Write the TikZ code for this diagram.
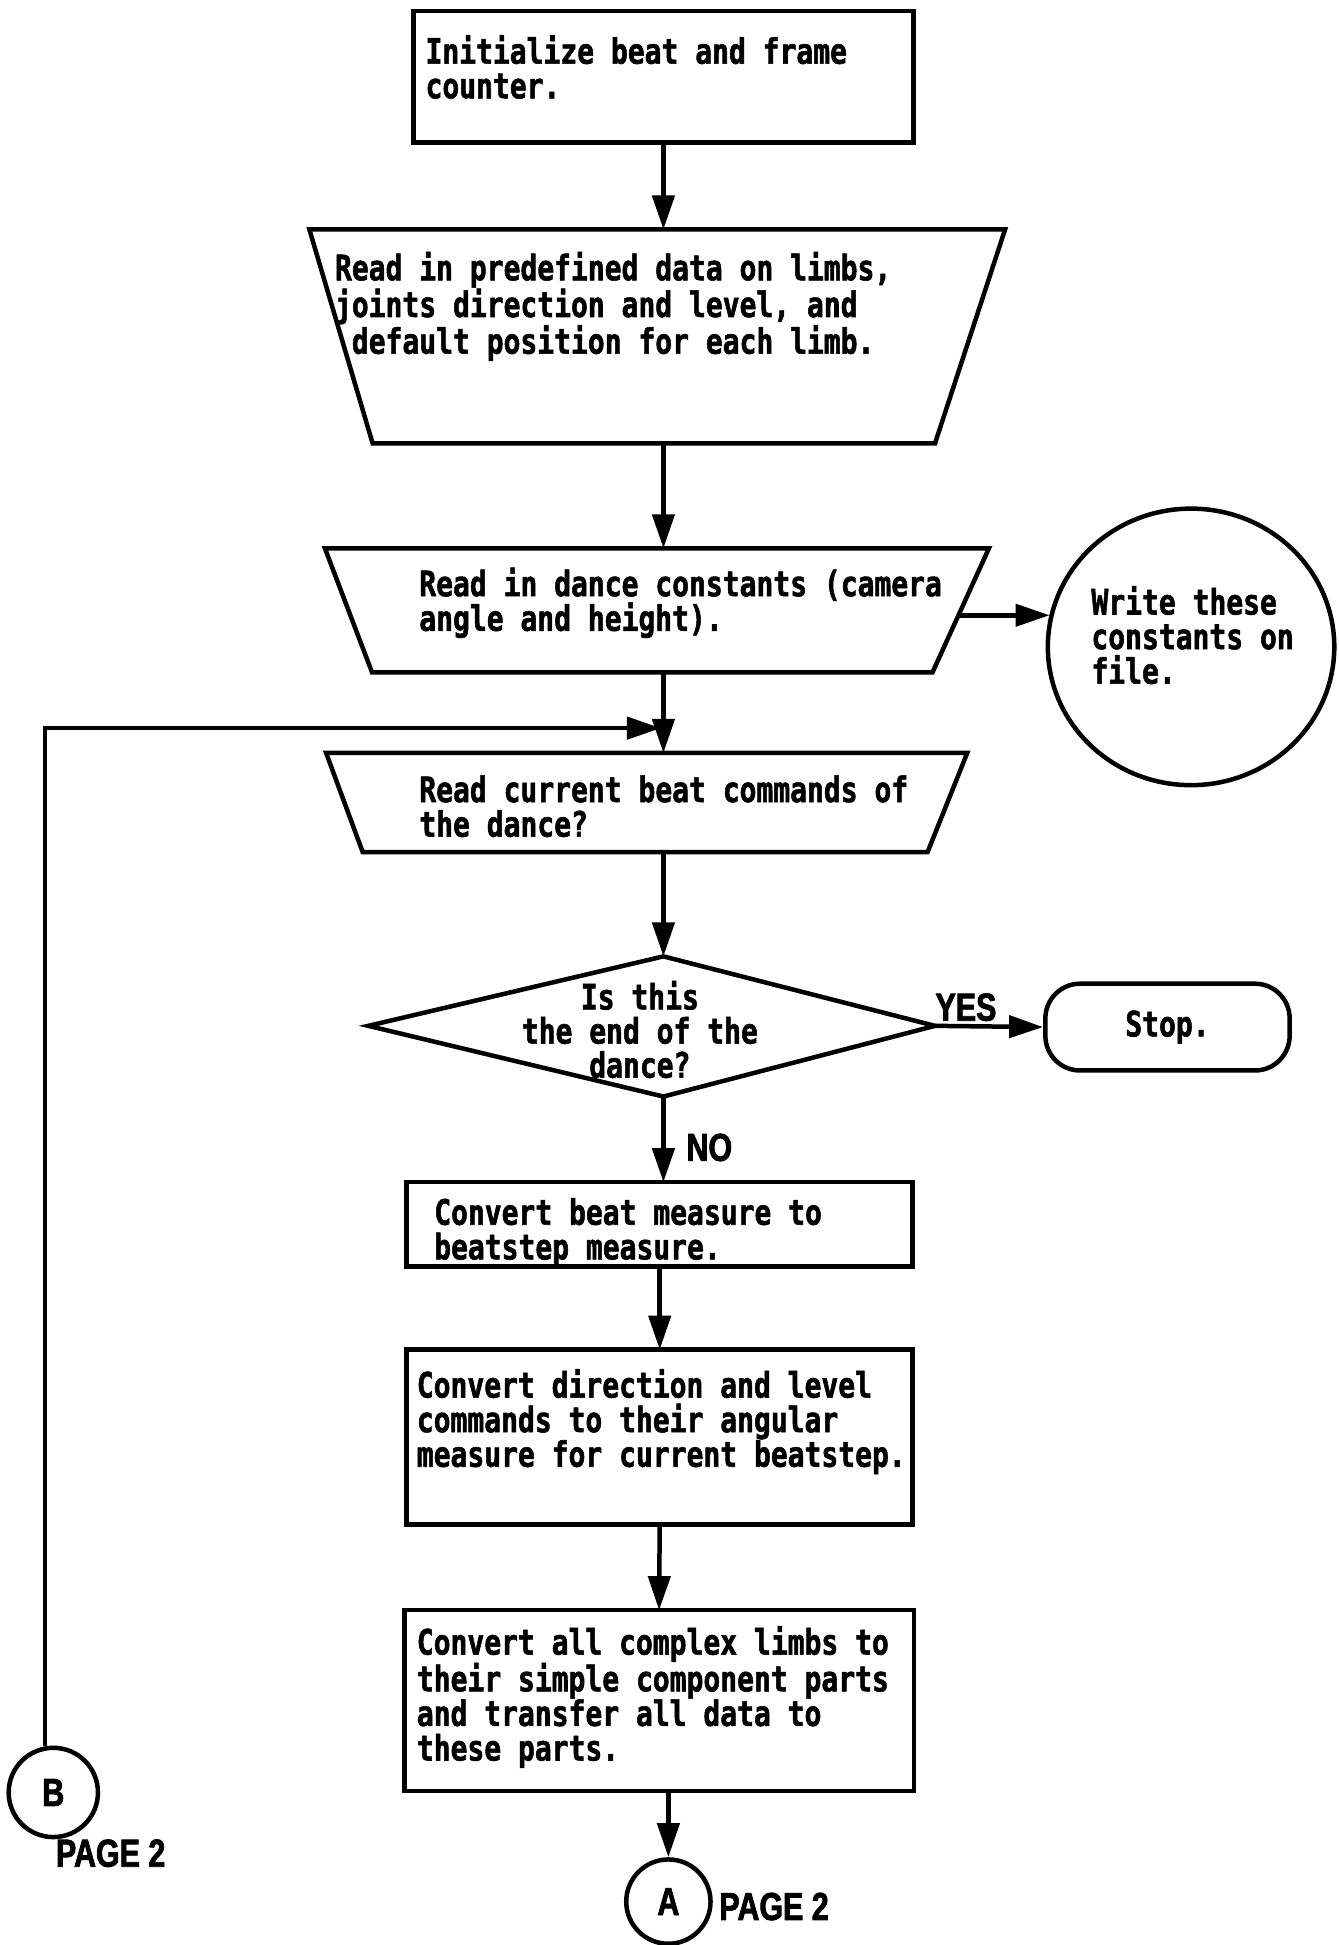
\documentclass[tikz,border=0pt]{standalone}
\usepackage{fontspec}
\usetikzlibrary{arrows.meta,shapes.geometric}
\newfontfamily\flowfont[FakeStretch=0.8,FakeBold=1.5]{DejaVu Sans Mono Bold}
\newfontfamily\labfont[FakeStretch=0.78,FakeBold=2]{Liberation Sans Bold}
\tikzset{
  shp/.style={draw, line width=4.5pt},
  box/.style={shp, inner sep=0pt, outer sep=0pt},
  arr/.style={line width=4.5pt, -{Triangle[length=34pt,width=22pt]}},
  txt/.style={font=\flowfont\fontsize{35}{34.6}\selectfont, align=left, inner sep=0pt, anchor=west},
  ctxt/.style={font=\flowfont\fontsize{35}{34.1}\selectfont, align=center, inner sep=0pt},
  lab/.style={font=\labfont\fontsize{39}{40}\selectfont, inner sep=0pt}
}
\begin{document}
\begin{tikzpicture}[x=1.24pt,y=-1.2404pt]
\useasboundingbox[fill=white] (0,0) rectangle (1079,1568);

% initialize box
\node[box, minimum width=1.24*403pt, minimum height=1.24*106pt] (init) at (535,62) {};
\node[txt] (tinit) at (343,54) {Initialize beat and frame\\counter.};

% read predefined data (trapezoid)
\draw[shp] (249.5,185) -- (810.5,185) -- (754,357.5) -- (300.5,357.5) -- cycle;
\coordinate (rd1n) at (535,185);
\coordinate (rd1s) at (535,357.5);
\node[txt] (trd1) at (270,247) {Read in predefined data on limbs,\\joints direction and level, and\\\hphantom{d}default position for each limb.};

% read dance constants
\draw[shp] (262,442) -- (797.5,442) -- (752,542) -- (300,542) -- cycle;
\coordinate (rd2n) at (535,442);
\coordinate (rd2s) at (535,542);
\coordinate (rd2e) at (773,496);
\node[txt] (trd2) at (338,486) {Read in dance constants (camera\\angle and height).};

% write constants circle
\node[shp, ellipse, minimum width=1.24*231pt, minimum height=1.24*223pt, inner sep=0pt] (wr) at (960.5,521.5) {};
\node[txt] (twr) at (880,512) {Write these\\constants on\\file.};

% read current beat
\draw[shp] (263,607) -- (780,607) -- (748,687) -- (292.5,687) -- cycle;
\coordinate (rd3n) at (535,607);
\coordinate (rd3s) at (535,687);
\node[txt] (trd3) at (338,650) {Read current beat commands of\\the dance?};

% decision
\draw[shp] (535,771) -- (754,827) -- (535,884) -- (297,827) -- cycle;
\coordinate (dtop) at (535,771);
\coordinate (dright) at (754,827);
\coordinate (dbot) at (535,884);
\node[ctxt] (tdec) at (516,830) {Is this\\the end of the\\dance?};

% stop
\node[shp, rounded corners=1.24*28pt, minimum width=1.24*197pt, minimum height=1.24*70pt, inner sep=0pt, font=\flowfont\fontsize{35}{34.6}\selectfont] (stop) at (941.5,828) {Stop.};

% convert boxes
\node[box, minimum width=1.24*408pt, minimum height=1.24*68pt] (cv1) at (532,987) {};
\node[txt] (tcv1) at (350,993.5) {Convert beat measure to\\beatstep measure.};
\node[box, minimum width=1.24*408pt, minimum height=1.24*141pt] (cv2) at (532,1158.5) {};
\node[txt] (tcv2) at (336,1146) {Convert direction and level\\commands to their angular\\measure for current beatstep.};
\node[box, minimum width=1.24*411pt, minimum height=1.24*146pt] (cv3) at (531.5,1371) {};
\node[txt] (tcv3) at (336,1368) {Convert all complex limbs to\\their simple component parts\\and transfer all data to\\these parts.};

% connectors
\node[shp, circle, minimum size=1.24*68pt, inner sep=0pt, lab] (conA) at (539,1533) {A};
\node[lab, anchor=west] (pgA) at (580,1537) {PAGE 2};
\node[shp, circle, minimum size=1.24*72pt, inner sep=0pt, lab] (conB) at (43,1445) {B};
\node[lab, anchor=west] (pgB) at (45,1494) {PAGE 2};

\node[lab] (yes) at (779,812) {YES};
\node[lab] (no) at (572,925) {NO};

\coordinate (mrg) at (533,587);

% arrows
\draw[arr] (init.south) -- (init.south |- rd1n);
\draw[arr] (rd1s) -- (rd2n);
\draw[arr] (rd2e) -- (rd2e -| wr.167);
\draw[arr] (rd2s) -- (rd3n);
\draw[arr] (conB.100) |- (mrg);
\draw[arr] (rd3s) -- (dtop);
\draw[arr] (dright) -- (stop.west);
\draw[arr] (dbot) -- (dbot |- cv1.north);
\draw[arr] (cv1.south) -- (cv2.north);
\draw[arr] (cv2.south) -- (cv3.north);
\draw[arr] (cv3.south -| conA.north) -- (conA.north);
\end{tikzpicture}
\end{document}
